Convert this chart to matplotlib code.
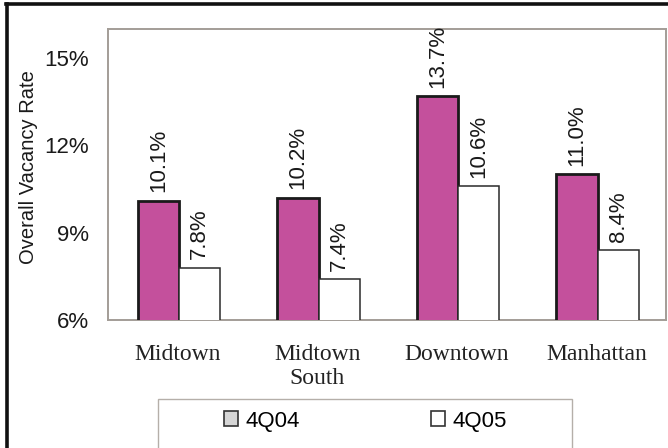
import matplotlib
matplotlib.use('Agg')
import matplotlib.pyplot as plt
from matplotlib.patches import Patch, Rectangle
from matplotlib.lines import Line2D
import numpy as np

# Overall vacancy rate by market, fourth quarter 2004 vs 2005
markets = ['Midtown', 'Midtown\nSouth', 'Downtown', 'Manhattan']
rate_4q04 = [10.1, 10.2, 13.7, 11.0]
rate_4q05 = [7.8, 7.4, 10.6, 8.4]
y_ticks = [6, 9, 12, 15]

pink = '#C4509C'
sans = 'Liberation Sans'
serif = 'Liberation Serif'

W, H = 668, 448
fig = plt.figure(figsize=(W / 100, H / 100), dpi=100)
fig.patch.set_facecolor('white')

ax = fig.add_axes([108 / W, 1 - 320 / H, (666 - 108) / W, (320 - 29) / H])
x = np.arange(len(markets))
width = 0.295

bars1 = ax.bar(x - width / 2 + 0.01, rate_4q04, width, bottom=0, color=pink,
               edgecolor='#1a1a1a', linewidth=2.0, zorder=3)
bars2 = ax.bar(x + width / 2 + 0.01, rate_4q05, width, color='white',
               edgecolor='#2a2a2a', linewidth=1.1, zorder=3)

for bars, vals in ((bars1, rate_4q04), (bars2, rate_4q05)):
    for b, v in zip(bars, vals):
        ax.annotate(f'{v:.1f}%', (b.get_x() + b.get_width() / 2, v),
                    xytext=(0, 6), textcoords='offset points',
                    rotation=90, ha='center', va='bottom',
                    fontsize=16, family=sans, color='#1a1a1a')

ax.set_ylim(6, 16)
ax.set_xlim(-0.5, 3.5)
ax.set_yticks(y_ticks)
ax.set_yticklabels([f'{t}%' for t in y_ticks], family=sans, fontsize=16,
                   color='#1a1a1a')
ax.set_xticks(x)
ax.set_xticklabels(markets, family=serif, fontsize=17, color='#222222',
                   linespacing=1.2)
ax.tick_params(axis='y', length=0, pad=14)
ax.tick_params(axis='x', length=0, pad=17)
ax.set_ylabel('Overall Vacancy Rate', family=sans, fontsize=14.5,
              color='#1a1a1a')
ax.yaxis.set_label_coords(-0.125, 0.526)
for s in ax.spines.values():
    s.set_color('#a39d97')
    s.set_linewidth(1.4)

# outer black frame on top and left
fig.add_artist(Line2D([6 / W, 1], [1 - 4 / H, 1 - 4 / H], color='#111111',
                      linewidth=2.6, transform=fig.transFigure))
fig.add_artist(Line2D([7 / W, 7 / W], [0, 1 - 4 / H], color='#111111',
                      linewidth=2.6, transform=fig.transFigure))

# legend box running off the bottom edge
fig.add_artist(Rectangle((158 / W, -0.05), 414 / W, 0.05 + 1 - 399 / H,
                         transform=fig.transFigure, facecolor='white',
                         edgecolor='#b5afa9', linewidth=1.0))
handles = [Patch(facecolor='#d6d6d6', edgecolor='#333333', linewidth=1.2),
           Patch(facecolor='white', edgecolor='#333333', linewidth=1.2)]
fig.legend(handles, ['4Q04', '4Q05'], ncol=2, loc='center left',
           bbox_to_anchor=(224 / W, 1 - 421 / H), frameon=False,
           prop={'family': sans, 'size': 16}, handlelength=0.62,
           handleheight=0.62, handletextpad=0.35, columnspacing=5.9,
           borderpad=0, borderaxespad=0)

fig.savefig('out.png', dpi=100)
